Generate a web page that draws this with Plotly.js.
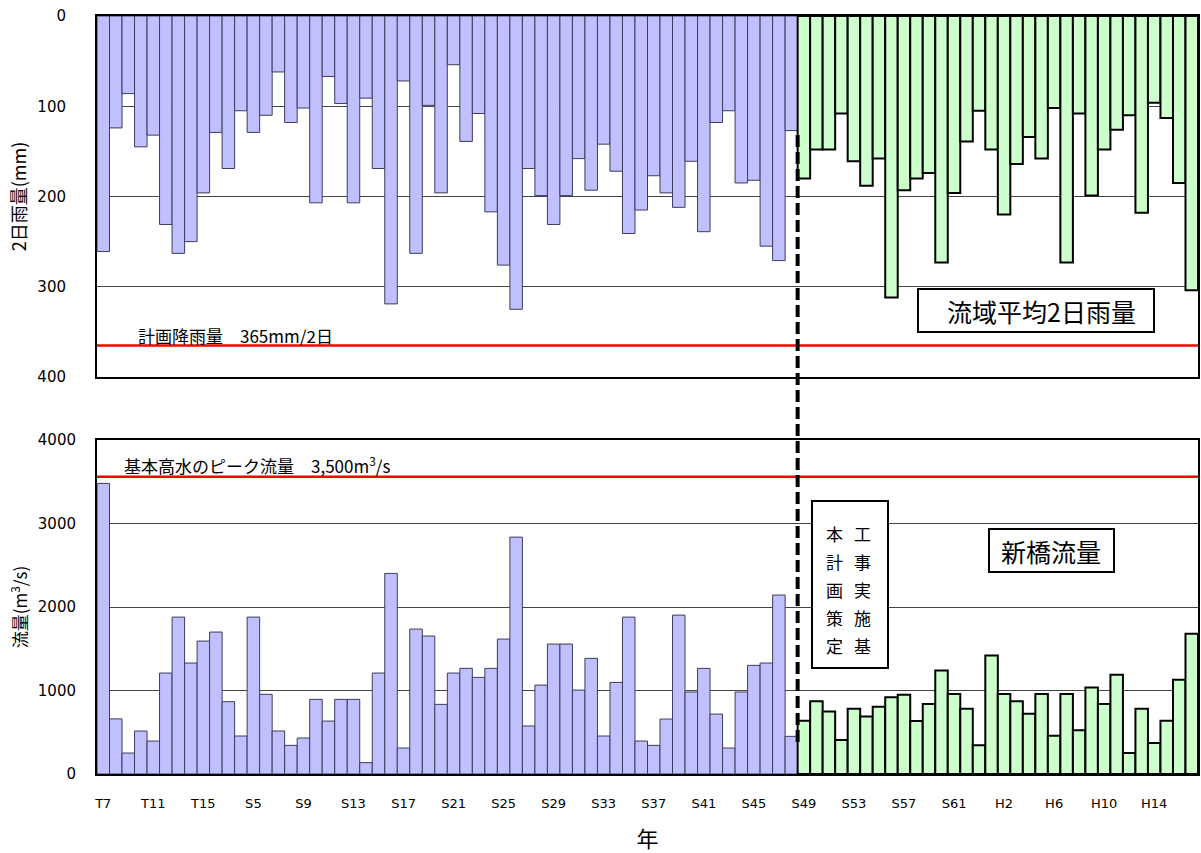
<!DOCTYPE html>
<html>
<head>
<meta charset="utf-8">
<script src="https://cdn.plot.ly/plotly-3.0.1.min.js"></script>
<style>
html,body{margin:0;padding:0;background:#fff;}
#chart{width:1201px;height:853px;}
</style>
</head>
<body>
<div id="chart"></div>
<script>
// ---- data (T7 = 1918 ... H17 = 2005) ----
const years = [];
for (let y = 1918; y <= 2005; y++) years.push(y);

const rain = [261,124,86,145,132,231,263,250,196,129,169,105,129,110,62,118,102,207,67,97,207,91,169,319,72,263,99,196,54,139,108,217,276,325,169,199,231,199,158,193,142,172,241,215,177,196,212,161,239,118,105,185,182,255,271,127,
180,148,148,108,161,188,158,312,193,180,174,273,196,139,105,148,220,164,134,158,102,273,108,199,148,126,110,218,96,113,185,304];

const flow = [3480,660,251,515,395,1209,1879,1329,1592,1700,866,455,1879,954,515,343,431,894,634,894,894,136,1209,2402,311,1736,1652,834,1209,1265,1157,1265,1616,2837,575,1065,1556,1556,1005,1385,455,1097,1879,395,343,658,1903,982,1265,718,311,982,1301,1329,2143,451,
638,870,750,407,782,690,806,918,950,634,838,1241,958,782,343,1420,958,870,722,958,459,958,523,1037,838,1189,251,782,371,638,1129,1680];

const splitYear = 1974; // 工事実施基本計画策定
const tickYears = [1918,1922,1926,1930,1934,1938,1942,1946,1950,1954,1958,1962,1966,1970,1974,1978,1982,1986,1990,1994,1998,2002];
const tickLabels = ['T7','T11','T15','S5','S9','S13','S17','S21','S25','S29','S33','S37','S41','S45','S49','S53','S57','S61','H2','H6','H10','H14'];

const planRain = 365;      // 計画降雨量
const peakFlow = 3560;     // 基本高水のピーク流量 (line as drawn)
const leftCol = ['本','計','画','策','定'];
const rightCol = ['工','事','実','施','基'];

// ---- layout helpers (pixel -> paper) ----
const W = 1201, H = 853, L = 97, R = 3, T = 16, B = 79;
const PW = W - L - R, PH = H - T - B;
const fx = px => (px - L) / PW;
const fy = py => (H - B - py) / PH;

const idxBefore = years.map((y,i)=>i).filter(i => years[i] < splitYear);
const idxAfter = years.map((y,i)=>i).filter(i => years[i] >= splitYear);
const pick = (arr, idx) => idx.map(i => arr[i]);

const blueFill = '#C0C0FF', blueLine = '#3c3c5c';
const greenFill = '#CCFFCC', greenLine = '#000000';

const traces = [
  {type:'bar', x: pick(years, idxBefore), y: pick(rain, idxBefore), xaxis:'x2', yaxis:'y2',
   marker:{color:blueFill, line:{color:blueLine, width:1}}, hoverinfo:'skip'},
  {type:'bar', x: pick(years, idxAfter), y: pick(rain, idxAfter), xaxis:'x2', yaxis:'y2',
   marker:{color:greenFill, line:{color:greenLine, width:2}}, hoverinfo:'skip'},
  {type:'bar', x: pick(years, idxBefore), y: pick(flow, idxBefore), xaxis:'x', yaxis:'y',
   marker:{color:blueFill, line:{color:blueLine, width:1}}, hoverinfo:'skip'},
  {type:'bar', x: pick(years, idxAfter), y: pick(flow, idxAfter), xaxis:'x', yaxis:'y',
   marker:{color:greenFill, line:{color:greenLine, width:2}}, hoverinfo:'skip'}
];

const jp = '"Noto Sans CJK JP", "Noto Sans", sans-serif';
const tickFont = {family:'DejaVu Sans', size:15, color:'#000'};
const sp = '\u3000';

const frame = {showline:true, linecolor:'#000', linewidth:2, mirror:true, zeroline:false};

const annotations = [
  {xref:'paper', yref:'y2', x: fx(136), y: 354, xanchor:'left', yanchor:'middle', showarrow:false,
   text:'計画降雨量' + sp + '365mm/2日', font:{family:jp, size:17, color:'#000'}},
  {xref:'paper', yref:'y', x: fx(122), y: 3700, xanchor:'left', yanchor:'middle', showarrow:false,
   text:'基本高水のピーク流量' + sp + '3,500m<sup>3</sup>/s', font:{family:jp, size:17, color:'#000'}},
  {xref:'paper', yref:'paper', x: fx(945), y: fy(311), xanchor:'left', yanchor:'middle', showarrow:false,
   text:'流域平均2日雨量', font:{family:jp, size:25, color:'#000'}},
  {xref:'paper', yref:'paper', x: fx(1051), y: fy(551), xanchor:'center', yanchor:'middle', showarrow:false,
   text:'新橋流量', font:{family:jp, size:25, color:'#000'}}
];
const rowY = [533, 561, 589, 617, 645];
for (let k = 0; k < leftCol.length; k++) {
  annotations.push({xref:'paper', yref:'paper', x: fx(834), y: fy(rowY[k]), xanchor:'center', yanchor:'middle',
    showarrow:false, text:leftCol[k], font:{family:jp, size:17, color:'#000'}});
  annotations.push({xref:'paper', yref:'paper', x: fx(862), y: fy(rowY[k]), xanchor:'center', yanchor:'middle',
    showarrow:false, text:rightCol[k], font:{family:jp, size:17, color:'#000'}});
}

const shapes = [
  {type:'line', xref:'paper', yref:'y2', x0:0, x1:1, y0:planRain, y1:planRain, line:{color:'#ff0000', width:2.5}},
  {type:'line', xref:'paper', yref:'y', x0:0, x1:1, y0:peakFlow, y1:peakFlow, line:{color:'#ff0000', width:2.5}},
  {type:'line', xref:'x', yref:'paper', x0: splitYear - 0.5, x1: splitYear - 0.5, y0: fy(135), y1: fy(745),
   line:{color:'#000', width:4, dash:'12px,5px'}},
  {type:'rect', xref:'paper', yref:'paper', x0: fx(918), x1: fx(1154), y0: fy(332), y1: fy(289),
   line:{color:'#000', width:2}, fillcolor:'#fff', layer:'above'},
  {type:'rect', xref:'paper', yref:'paper', x0: fx(989), x1: fx(1114), y0: fy(572), y1: fy(529),
   line:{color:'#000', width:2}, fillcolor:'#fff', layer:'above'},
  {type:'rect', xref:'paper', yref:'paper', x0: fx(812), x1: fx(888), y0: fy(668), y1: fy(501),
   line:{color:'#000', width:2}, fillcolor:'#fff', layer:'above'}
];

const layout = {
  width: W, height: H,
  margin: {l:L, r:R, t:T, b:B, pad:0},
  paper_bgcolor:'#fff', plot_bgcolor:'#fff',
  showlegend:false,
  bargap:0,
  barmode:'overlay',
  font:{family:jp, color:'#000'},
  xaxis: Object.assign({}, frame, {
    anchor:'y', domain:[0,1], range:[1917.5, 2005.5],
    tickmode:'array', tickvals: tickYears, ticktext: tickLabels,
    ticks:'', ticklabelstandoff: 16, showgrid:false,
    tickfont:{family:'DejaVu Sans', size:13, color:'#000'},
    title:{text:'年', font:{family:jp, size:22, color:'#000'}, standoff: 24}
  }),
  xaxis2: Object.assign({}, frame, {
    anchor:'y2', domain:[0,1], matches:'x', showticklabels:false, ticks:'', showgrid:false
  }),
  yaxis2: Object.assign({}, frame, {
    anchor:'x2', domain:[fy(377), 1], range:[400, 0],
    tickmode:'array', tickvals:[0,100,200,300,400],
    ticks:'', ticklabelstandoff: 26, tickfont: tickFont,
    showgrid:true, gridcolor:'#444', gridwidth:1,
    title:{text:'2日雨量(mm)', font:{family:jp, size:18, color:'#000'}, standoff: 6}
  }),
  yaxis: Object.assign({}, frame, {
    anchor:'x', domain:[0, fy(440)], range:[0, 4000],
    tickmode:'array', tickvals:[0,1000,2000,3000,4000],
    ticks:'', ticklabelstandoff: 16, tickfont: tickFont,
    showgrid:true, gridcolor:'#444', gridwidth:1,
    title:{text:'流量(m<sup>3</sup>/s)', font:{family:jp, size:17, color:'#000'}, standoff: 6}
  }),
  annotations: annotations,
  shapes: shapes
};

Plotly.newPlot('chart', traces, layout, {displayModeBar:false, staticPlot:true});
</script>
</body>
</html>
